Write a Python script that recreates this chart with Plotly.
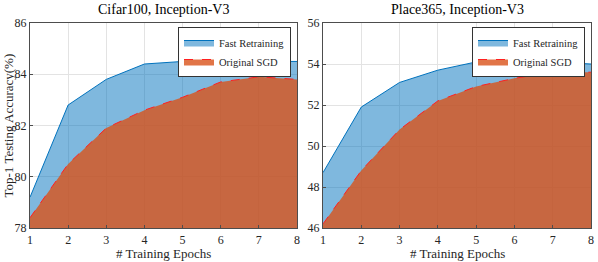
import plotly.graph_objects as go

epochs = [1, 2, 3, 4, 5, 6, 7, 8]
cifar_fast = [79.2, 82.8, 83.8, 84.4, 84.5, 84.5, 84.5, 84.5]
cifar_sgd = [78.4, 80.5, 81.9, 82.6, 83.1, 83.7, 83.9, 83.8]
place_fast = [48.7, 51.9, 53.1, 53.7, 54.1, 54.0, 54.1, 54.0]
place_sgd = [46.2, 48.8, 50.8, 52.2, 52.9, 53.3, 53.6, 53.6]

titles = ["Cifar100, Inception-V3", "Place365, Inception-V3"]
x_title = "# Training Epochs"
y_title = "Top-1 Testing Accuracy(%)"
x_ticks = [1, 2, 3, 4, 5, 6, 7, 8]
cifar_yticks = [78, 80, 82, 84, 86]
place_yticks = [46, 48, 50, 52, 54, 56]

FONT = "Liberation Serif"
BLUE_FILL = "rgba(0,114,189,0.5)"
BLUE_LINE = "#0072BD"
ORANGE_FILL = "rgba(217,83,25,0.8)"
RED_LINE = "#FF2020"

fig = go.Figure()

def add_pair(fast, sgd, xa, ya, legend):
    fig.add_trace(go.Scatter(x=epochs, y=fast, mode="lines", fill="tozeroy",
                             fillcolor=BLUE_FILL, line=dict(color=BLUE_LINE, width=1),
                             name="Fast Retraining", xaxis=xa, yaxis=ya, legend=legend))
    fig.add_trace(go.Scatter(x=epochs, y=sgd, mode="lines", fill="tozeroy",
                             fillcolor=ORANGE_FILL, line=dict(color=RED_LINE, width=1, dash="dash"),
                             name="Original SGD", xaxis=xa, yaxis=ya, legend=legend))

add_pair(cifar_fast, cifar_sgd, "x", "y", "legend")
add_pair(place_fast, place_sgd, "x2", "y2", "legend2")

axis_common = dict(showgrid=True, gridcolor="#E3E3E3", gridwidth=1, showline=True,
                   linecolor="#4D4D4D", linewidth=1, mirror=True, ticks="inside",
                   ticklen=3, tickcolor="#4D4D4D", zeroline=False, automargin=False,
                   tickfont=dict(family=FONT, size=12, color="#262626"))

L1, R1, L2, R2 = 30, 297, 323, 591
TOP, BOT = 23, 228
W, H = 598, 262
ydom = [1 - BOT / H, 1 - TOP / H]

legend_common = dict(xanchor="right", yanchor="top", bgcolor="white",
                     bordercolor="#333333", borderwidth=1,
                     font=dict(family=FONT, size=10.5, color="#262626"),
                     tracegroupgap=0, itemwidth=30)

annos = []
for (l, r), t in zip([(L1, R1), (L2, R2)], titles):
    annos.append(dict(text=t, x=(l + r) / 2 / W, y=1 - 10 / H, xref="paper", yref="paper",
                      showarrow=False, font=dict(family=FONT, size=14, color="black"),
                      xanchor="center", yanchor="middle"))
    annos.append(dict(text=x_title, x=(l + r) / 2 / W, y=1 - 253 / H, xref="paper", yref="paper",
                      showarrow=False, font=dict(family=FONT, size=13, color="#262626"),
                      xanchor="center", yanchor="middle"))
annos.append(dict(text=y_title, x=8 / W, y=(1 - (TOP + BOT) / 2 / H), xref="paper", yref="paper",
                  showarrow=False, textangle=-90, font=dict(family=FONT, size=13, color="#262626"),
                  xanchor="center", yanchor="middle"))

fig.update_layout(
    width=W, height=H,
    margin=dict(l=0, r=0, t=0, b=0),
    paper_bgcolor="white", plot_bgcolor="white",
    font=dict(family=FONT, color="#262626"),
    xaxis=dict(domain=[L1 / W, R1 / W], range=[1, 8], tickvals=x_ticks, anchor="y",
               ticklabelstandoff=1, **axis_common),
    yaxis=dict(domain=ydom, range=[78, 86], tickvals=cifar_yticks, anchor="x", **axis_common),
    xaxis2=dict(domain=[L2 / W, R2 / W], range=[1, 8], tickvals=x_ticks, anchor="y2",
                ticklabelstandoff=1, **axis_common),
    yaxis2=dict(domain=ydom, range=[46, 56], tickvals=place_yticks, anchor="x2", **axis_common),
    legend=dict(x=(R1 - 6) / W, y=1 - 27 / H, **legend_common),
    legend2=dict(x=(R2 - 6) / W, y=1 - 27 / H, **legend_common),
    annotations=annos,
)

fig.write_html("out.html", config={"displayModeBar": False},
               post_script="document.body.style.margin='0px';document.body.style.overflow='hidden';")
